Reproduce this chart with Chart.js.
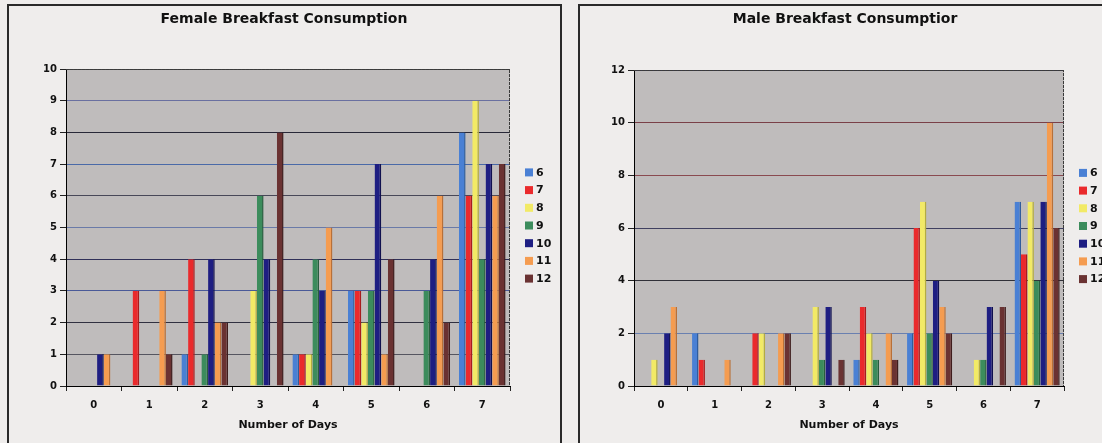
<!DOCTYPE html>
<html>
<head>
<meta charset="utf-8">
<script src="https://cdn.jsdelivr.net/npm/chart.js@4.4.1/dist/chart.umd.min.js"></script>
<style>
  html, body { margin: 0; padding: 0; }
  body { width: 1102px; height: 443px; overflow: hidden; background: #efedec; position: relative; }
  .panel { position: absolute; top: 4px; border: 2px solid #2a2a2a; border-bottom: none; }
  #leftPanel { left: 7px; width: 551px; height: 445px; }
  #rightPanel { left: 578px; width: 540px; height: 445px; }
  canvas { position: absolute; }
  #femaleChart { left: 9px; top: 6px; }
  #maleChart { left: 580px; top: 6px; }
</style>
</head>
<body>
<div class="panel" id="leftPanel"></div>
<div class="panel" id="rightPanel"></div>
<canvas id="femaleChart" width="550" height="437"></canvas>
<canvas id="maleChart" width="530" height="437"></canvas>
<script>
// categories
const days = ['0', '1', '2', '3', '4', '5', '6', '7'];
const ages = ['6', '7', '8', '9', '10', '11', '12'];

// female counts per age, for days 0..7
const female6 = [0, 0, 1, 0, 1, 3, 0, 8];
const female7 = [0, 3, 4, 0, 1, 3, 0, 6];
const female8 = [0, 0, 0, 3, 1, 2, 0, 9];
const female9 = [0, 0, 1, 6, 4, 3, 3, 4];
const female10 = [1, 0, 4, 4, 3, 7, 4, 7];
const female11 = [1, 3, 2, 0, 5, 1, 6, 6];
const female12 = [0, 1, 2, 8, 0, 4, 2, 7];

// male counts per age, for days 0..7
const male6 = [0, 2, 0, 0, 1, 2, 0, 7];
const male7 = [0, 1, 2, 0, 3, 6, 0, 5];
const male8 = [1, 0, 2, 3, 2, 7, 1, 7];
const male9 = [0, 0, 0, 1, 1, 2, 1, 4];
const male10 = [2, 0, 0, 3, 0, 4, 3, 7];
const male11 = [3, 1, 2, 0, 2, 3, 0, 10];
const male12 = [0, 0, 2, 1, 1, 2, 3, 6];

const barColors = ['#4a80d4', '#ea2a2c', '#f2ea66', '#3c8c5c', '#1e1e82', '#f59c50', '#6a3232'];
const barShade = ['#2f5c9c', '#a81c1e', '#b4ac40', '#285e3e', '#10104e', '#b87038', '#3e1c1c'];
const fontFamily = "'DejaVu Sans', Verdana, sans-serif";

// background of the plot area, frame and the legend at the side
const plotDecor = {
    id: 'plotDecor',
    beforeDraw(chart) {
        const a = chart.chartArea;
        const ctx = chart.ctx;
        ctx.save();
        ctx.fillStyle = '#bfbcbc';
        ctx.fillRect(a.left, a.top, a.right - a.left, a.bottom - a.top);
        ctx.restore();
    },
    afterDraw(chart) {
        const a = chart.chartArea;
        const ctx = chart.ctx;
        ctx.save();
        ctx.strokeStyle = '#3a3a3a';
        ctx.lineWidth = 1;
        ctx.setLineDash([3, 1]);
        ctx.beginPath();
        ctx.moveTo(a.left, a.top + 0.5);
        ctx.lineTo(a.right - 0.5, a.top + 0.5);
        ctx.lineTo(a.right - 0.5, a.bottom);
        ctx.stroke();
        ctx.setLineDash([]);

        // legend
        const sets = chart.data.datasets;
        const mid = (a.top + a.bottom) / 2 - 2;
        const step = 17.7;
        const x = a.right + 15;
        ctx.font = 'bold 11px ' + fontFamily;
        ctx.textBaseline = 'middle';
        ctx.textAlign = 'left';
        sets.forEach(function(ds, i) {
            const y = mid + (i - (sets.length - 1) / 2) * step;
            ctx.fillStyle = ds.backgroundColor;
            ctx.fillRect(x, y - 4, 8, 8);
            ctx.fillStyle = '#111';
            ctx.fillText(ds.label, x + 11, y + 0.5);
        });
        ctx.restore();
    }
};

function makeChart(id, title, series, yMax, yStep, gridColors, dims) {
    const ctx = document.getElementById(id).getContext('2d');
    return new Chart(ctx, {
        type: 'bar',
        data: {
            labels: days,
            datasets: series.map(function(values, i) {
                return {
                    label: ages[i],
                    data: values,
                    yAxisID: 'y',
                    backgroundColor: barColors[i],
                    borderColor: barShade[i],
                    borderWidth: { top: 0, left: 0, bottom: 0, right: 1.5 },
                    borderSkipped: false,
                    barPercentage: 1.0,
                    categoryPercentage: 0.84
                };
            })
        },
        options: {
            responsive: false,
            animation: false,
            layout: { padding: 0 },
            plugins: {
                legend: { display: false },
                tooltip: { enabled: false },
                title: {
                    display: true,
                    text: title,
                    color: '#111',
                    font: { family: fontFamily, size: 14, weight: 'bold' },
                    padding: { top: 4.6, bottom: dims.top - 4.6 - 16.8 }
                }
            },
            scales: {
                x: {
                    afterFit: function(scale) { scale.height = dims.bottom; },
                    border: { display: true, color: '#000', width: 1 },
                    grid: {
                        offset: true,
                        drawOnChartArea: false,
                        drawTicks: true,
                        tickLength: 5,
                        tickColor: '#222'
                    },
                    ticks: {
                        color: '#111',
                        padding: 8,
                        font: { family: fontFamily, size: 10, weight: 'bold' }
                    },
                    title: {
                        display: true,
                        text: 'Number of Days',
                        color: '#111',
                        font: { family: fontFamily, size: 11, weight: 'bold' },
                        padding: { top: 0, bottom: 11 }
                    }
                },
                y: {
                    min: 0,
                    max: yMax,
                    afterFit: function(scale) { scale.width = dims.left; },
                    border: { display: true, color: '#000', width: 1 },
                    grid: {
                        color: function(c) { return gridColors[c.index] || '#444'; },
                        lineWidth: 1,
                        tickLength: 6,
                        tickColor: '#222'
                    },
                    ticks: {
                        stepSize: yStep,
                        color: '#111',
                        padding: 3,
                        font: { family: fontFamily, size: 10, weight: 'bold' }
                    }
                },
                // empty axis on the right that keeps room for the legend
                legendSpace: {
                    position: 'right',
                    afterFit: function(scale) { scale.width = dims.side; },
                    grid: { display: false },
                    border: { display: false },
                    ticks: { display: false }
                }
            }
        },
        plugins: [plotDecor]
    });
}

const femaleGrid = ['#000', '#555560', '#303040', '#4a5a98', '#303058', '#6a7aa8', '#484858', '#4a6aa8', '#282838', '#6a70a0', '#404040'];
const maleGrid = ['#000', '#6a80b0', '#303038', '#404060', '#8a4a50', '#7a4048', '#383848'];

makeChart('femaleChart', 'Female Breakfast Consumption',
    [female6, female7, female8, female9, female10, female11, female12],
    10, 1, femaleGrid, { left: 57, side: 49, top: 63, bottom: 57 });

makeChart('maleChart', 'Male Breakfast Consumptior',
    [male6, male7, male8, male9, male10, male11, male12],
    12, 2, maleGrid, { left: 54, side: 46, top: 64, bottom: 57 });
</script>
</body>
</html>
